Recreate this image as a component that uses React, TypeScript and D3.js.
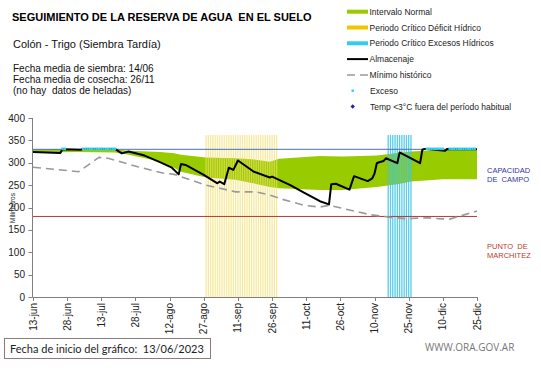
import React from 'react';
import * as d3 from 'd3';

const parse = d3.timeParse('%Y-%m-%d');

// eje x
const axisStart = '2023-06-13';
const axisEnd = '2023-12-25';
const xTickLabels = ['13-jun', '28-jun', '13-jul', '28-jul', '12-ago', '27-ago', '11-sep', '26-sep', '11-oct', '26-oct', '10-nov', '25-nov', '10-dic', '25-dic'];
const yTicks = [0, 50, 100, 150, 200, 250, 300, 350, 400];

// almacenaje (mm)
const storageDates = ['2023-06-13', '2023-06-25', '2023-06-26', '2023-07-04', '2023-07-05', '2023-07-19', '2023-07-22', '2023-07-25', '2023-08-01', '2023-08-08', '2023-08-13', '2023-08-16', '2023-08-17', '2023-08-19', '2023-08-27', '2023-09-02', '2023-09-03', '2023-09-05', '2023-09-07', '2023-09-09', '2023-09-11', '2023-09-18', '2023-09-25', '2023-09-26', '2023-10-04', '2023-10-10', '2023-10-17', '2023-10-21', '2023-10-22', '2023-10-24', '2023-10-30', '2023-11-01', '2023-11-07', '2023-11-09', '2023-11-10', '2023-11-11', '2023-11-12', '2023-11-14', '2023-11-15', '2023-11-20', '2023-11-21', '2023-11-30', '2023-12-01', '2023-12-02', '2023-12-11', '2023-12-12', '2023-12-25'];
const storageValues = [324, 322, 330, 329, 331, 331, 321, 325, 316, 301, 289, 274, 297, 295, 273, 254, 258, 252, 289, 284, 305, 280, 267, 269, 250, 233, 214, 207, 252, 253, 240, 270, 259, 265, 276, 299, 301, 304, 310, 299, 323, 299, 329, 331, 327, 331, 330];

// minimo historico
const minDates = ['2023-06-13', '2023-07-03', '2023-07-12', '2023-07-16', '2023-07-29', '2023-08-09', '2023-08-14', '2023-08-28', '2023-09-10', '2023-09-19', '2023-09-25', '2023-09-30', '2023-10-10', '2023-10-17', '2023-10-21', '2023-10-27', '2023-11-08', '2023-11-17', '2023-11-24', '2023-12-03', '2023-12-08', '2023-12-13', '2023-12-19', '2023-12-25'];
const minValues = [290, 280, 312, 310, 291, 277, 274, 250, 235, 235, 228, 219, 205, 201, 205, 198, 184, 178, 175, 177, 175, 174, 183, 192];

// intervalo normal
const normalDates = ['2023-06-13', '2023-07-03', '2023-07-19', '2023-07-25', '2023-08-08', '2023-08-14', '2023-08-17', '2023-08-28', '2023-09-10', '2023-09-17', '2023-09-25', '2023-09-29', '2023-10-17', '2023-10-27', '2023-11-11', '2023-11-20', '2023-11-26', '2023-12-10', '2023-12-25'];
const normalUpper = [330, 330, 330, 327, 324, 321, 318, 312, 310, 308, 302, 309, 315, 314, 316, 322, 325, 329, 329];
const normalLower = [323, 324, 323, 318, 303, 289, 280, 267, 262, 255, 246, 243, 239, 239, 246, 252, 258, 263, 263];

const fieldCapacity = 330;
const wiltingPoint = 180;
const periodTop = 362;
const deficitPeriod = ['2023-08-28', '2023-09-28'];
const excessPeriod = ['2023-11-16', '2023-11-26'];
const excessRuns = [['2023-06-26', '2023-06-27'], ['2023-07-05', '2023-07-19'], ['2023-12-03', '2023-12-10'], ['2023-12-13', '2023-12-24']];
const excessLevel = 331;

const FONT = '"Liberation Sans", Arial, sans-serif';

const infoLines = ['Fecha media de siembra: 14/06', 'Fecha media de cosecha: 26/11', '(no hay  datos de heladas)'];

const legendItems = [
  { kind: 'band', color: '#99cc00', label: 'Intervalo Normal' },
  { kind: 'band', color: '#f5c400', label: 'Periodo Crítico Déficit Hídrico' },
  { kind: 'band', color: '#33ccee', label: 'Periodo Crítico Excesos Hídricos' },
  { kind: 'line', color: '#000', label: 'Almacenaje' },
  { kind: 'dash', color: '#999', label: 'Mínimo histórico' },
  { kind: 'dot', color: '#33ccee', label: 'Exceso' },
  { kind: 'diamond', color: '#1f2a9c', label: 'Temp <3°C fuera del período habitual' },
];

function daysOf(period: string[]) {
  return d3.timeDay.range(parse(period[0])!, d3.timeDay.offset(parse(period[1])!, 1));
}

export default function App() {
  const W = 541;
  const H = 368;
  const x = d3.scaleTime().domain([parse(axisStart)!, parse(axisEnd)!]).range([33, 477]);
  const y = d3.scaleLinear().domain([0, 400]).range([297, 118]);

  const xTicks = xTickLabels.map((_, i) => d3.timeDay.offset(parse(axisStart)!, i * 15));

  const band = d3
    .area<number>()
    .x((i) => x(parse(normalDates[i])!))
    .y0((i) => y(normalLower[i]))
    .y1((i) => y(normalUpper[i]));

  const storageLine = d3
    .line<number>()
    .x((i) => x(parse(storageDates[i])!))
    .y((i) => y(storageValues[i]));

  const minLine = d3
    .line<number>()
    .x((i) => x(parse(minDates[i])!))
    .y((i) => y(minValues[i]));

  const excessDays = excessRuns.flatMap((r) => daysOf(r));

  return (
    <svg width={W} height={H} style={{ position: 'absolute', left: 0, top: 0, background: '#fff' }} fontFamily={FONT}>
      <rect width={W} height={H} fill="#fff" />

      {/* encabezado */}
      <text x={12} y={20.5} fontSize={11} fontWeight="bold" fill="#000" style={{ whiteSpace: 'pre' }}>
        SEGUIMIENTO DE LA RESERVA DE AGUA  EN EL SUELO
      </text>
      <text x={13} y={48} fontSize={11} fill="#111">Colón - Trigo (Siembra Tardía)</text>
      {infoLines.map((t, i) => (
        <text key={t} x={13} y={72 + i * 11} fontSize={10} fill="#111" style={{ whiteSpace: 'pre' }}>{t}</text>
      ))}

      {/* leyenda */}
      {legendItems.map((d, i) => {
        const cy = 11.7 + i * 15.8;
        return (
          <g key={d.label}>
            {d.kind === 'band' && <rect x={347} y={cy - 2} width={21} height={4} fill={d.color} />}
            {d.kind === 'line' && <line x1={347} x2={368} y1={cy} y2={cy} stroke={d.color} strokeWidth={2} />}
            {d.kind === 'dash' && <line x1={347} x2={368} y1={cy} y2={cy} stroke={d.color} strokeWidth={1.5} strokeDasharray="8,5" />}
            {d.kind === 'dot' && <rect x={351.5} y={cy - 1.2} width={2.4} height={2.4} fill={d.color} />}
            {d.kind === 'diamond' && <path d={`M352.7,${cy - 2.2}l2.2,2.2l-2.2,2.2l-2.2,-2.2z`} fill={d.color} />}
            <text x={d.kind === 'dot' || d.kind === 'diamond' ? 370 : 369.5} y={cy + 3} fontSize={8.5} fill="#222">
              {d.label}
            </text>
          </g>
        );
      })}

      {/* intervalo normal */}
      <path d={band(d3.range(normalDates.length)) ?? ''} fill="#99cc00" />

      {/* periodos criticos */}
      {daysOf(deficitPeriod).map((d) => (
        <rect key={'def' + d.getTime()} x={x(d) - 0.65} y={y(periodTop)} width={1.3} height={y(0) - y(periodTop)} fill="#f2de6a" opacity={0.65} />
      ))}
      {daysOf(excessPeriod).map((d) => (
        <rect key={'exc' + d.getTime()} x={x(d) - 0.65} y={y(periodTop)} width={1.3} height={y(0) - y(periodTop)} fill="#3cc4e6" opacity={0.85} />
      ))}

      {/* capacidad de campo y punto de marchitez */}
      <line x1={x(parse(axisStart)!)} x2={x(parse(axisEnd)!)} y1={y(fieldCapacity)} y2={y(fieldCapacity)} stroke="#4a6fc0" strokeWidth={1} />
      <line x1={x(parse(axisStart)!)} x2={x(parse(axisEnd)!)} y1={y(wiltingPoint)} y2={y(wiltingPoint)} stroke="#b03a3a" strokeWidth={1} />

      <path d={minLine(d3.range(minDates.length)) ?? ''} fill="none" stroke="#999" strokeWidth={1.6} strokeDasharray="8,5" />
      <path d={storageLine(d3.range(storageDates.length)) ?? ''} fill="none" stroke="#000" strokeWidth={2} strokeLinejoin="round" />

      {excessDays.map((d) => (
        <rect key={'ex' + d.getTime()} x={x(d) - 1.2} y={y(excessLevel) - 1.3} width={2.4} height={2.6} fill="#33ccee" />
      ))}

      {/* ejes */}
      <line x1={32.5} x2={32.5} y1={y(400)} y2={y(0)} stroke="#7f7f7f" />
      <line x1={32.5} x2={x(parse(axisEnd)!)} y1={y(0) + 0.5} y2={y(0) + 0.5} stroke="#7f7f7f" />
      {yTicks.map((t) => (
        <g key={'y' + t}>
          <line x1={28.5} x2={32.5} y1={Math.round(y(t)) + 0.5} y2={Math.round(y(t)) + 0.5} stroke="#7f7f7f" />
          <text x={25} y={y(t)} dy="0.35em" textAnchor="end" fontSize={10} fill="#222">{t}</text>
        </g>
      ))}
      {xTicks.map((d, i) => (
        <g key={'x' + i}>
          <line x1={Math.round(x(d)) + 0.5} x2={Math.round(x(d)) + 0.5} y1={y(0)} y2={y(0) + 4} stroke="#7f7f7f" />
          <text transform={`translate(${x(d)},${y(0) + 6}) rotate(-90)`} dy="0.35em" textAnchor="end" fontSize={10} fill="#222">
            {xTickLabels[i]}
          </text>
        </g>
      ))}
      <text transform="translate(13,208) rotate(-90)" textAnchor="middle" dy="0.35em" fontSize={6.5} fill="#222">Milímetros</text>

      <text x={487} y={173} fontSize={7.5} fill="#3333a8">CAPACIDAD</text>
      <text x={487} y={182} fontSize={7.5} fill="#3333a8" style={{ whiteSpace: 'pre' }}>DE  CAMPO</text>
      <text x={487} y={249} fontSize={7.5} fill="#c0392b" style={{ whiteSpace: 'pre' }}>PUNTO  DE</text>
      <text x={487} y={258} fontSize={7.5} fill="#c0392b">MARCHITEZ</text>

      {/* pie */}
      <rect x={4.5} y={338.5} width={206} height={20} fill="#fff" stroke="#8c7b7b" />
      <text x={10} y={352.5} fontSize={11} fontFamily="Lato, 'Open Sans', sans-serif" fill="#222" style={{ whiteSpace: 'pre' }}>
        Fecha de inicio del gráfico:  13/06/2023
      </text>
      <text x={425} y={351} fontSize={10} fontFamily="'Open Sans', Lato, sans-serif" fill="#777">WWW.ORA.GOV.AR</text>
    </svg>
  );
}
